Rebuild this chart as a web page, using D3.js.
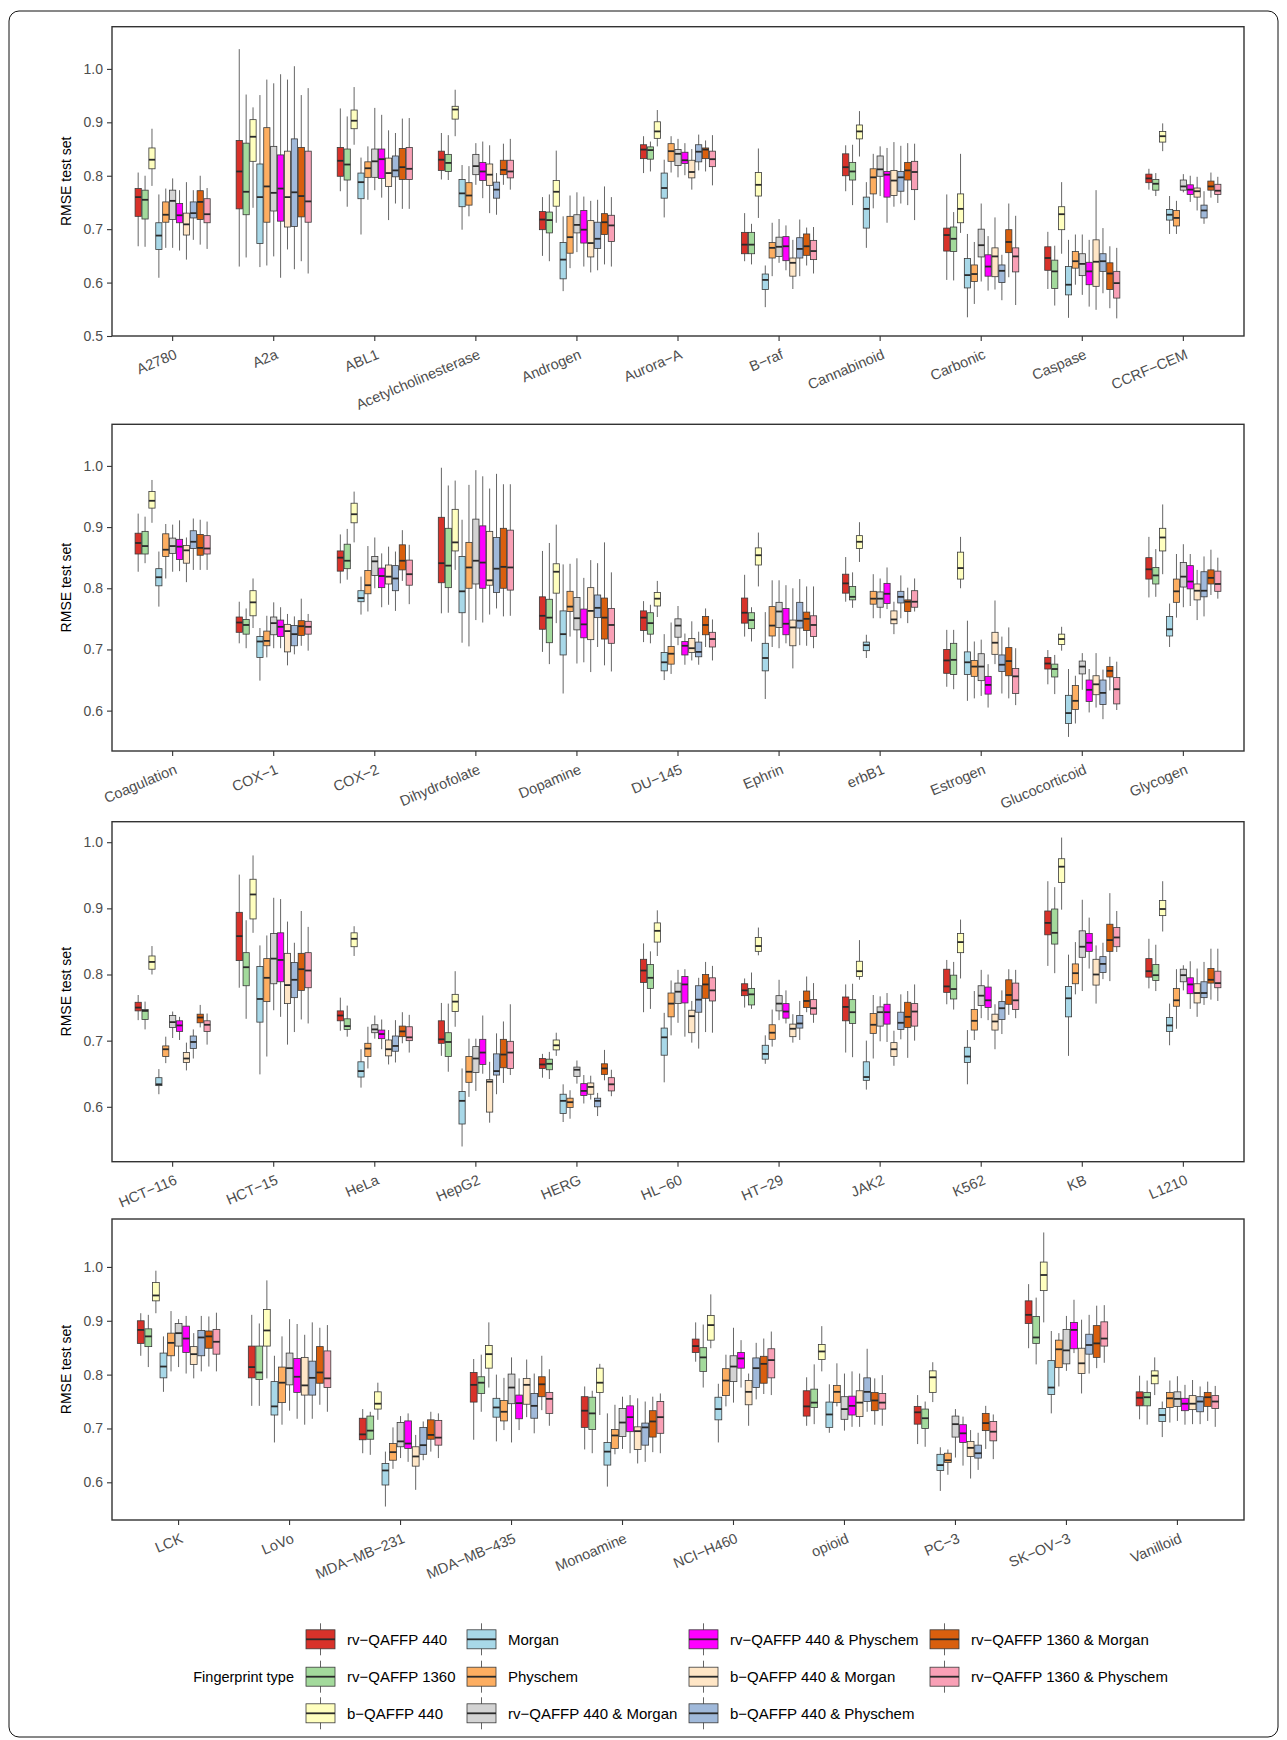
<!DOCTYPE html>
<html><head><meta charset="utf-8">
<script src="https://cdn.jsdelivr.net/npm/d3@7"></script>
<style>
body{margin:0;background:#fff}
svg{display:block}
text{font-family:"Liberation Sans",Arial,Helvetica,sans-serif}
</style>
</head><body>
<svg id="chart" width="1287" height="1740"></svg>
<script>
// ---------------- DATA ----------------
const seriesNames = ["rv−QAFFP 440","rv−QAFFP 1360","b−QAFFP 440","Morgan","Physchem",
  "rv−QAFFP 440 & Morgan","rv−QAFFP 440 & Physchem","b−QAFFP 440 & Morgan",
  "b−QAFFP 440 & Physchem","rv−QAFFP 1360 & Morgan","rv−QAFFP 1360 & Physchem"];
const seriesColors = ["#D8322A","#A3DA9C","#FFFFBF","#A8D8E8","#FDAE61","#D3D3D3",
  "#FF00FF","#FFE6C6","#A0B9DA","#D95F0E","#F9A0B6"];

const categoriesPanel1 = ["A2780","A2a","ABL1","Acetylcholinesterase","Androgen","Aurora−A","B−raf","Cannabinoid","Carbonic","Caspase","CCRF−CEM"];
const categoriesPanel2 = ["Coagulation","COX−1","COX−2","Dihydrofolate","Dopamine","DU−145","Ephrin","erbB1","Estrogen","Glucocorticoid","Glycogen"];
const categoriesPanel3 = ["HCT−116","HCT−15","HeLa","HepG2","HERG","HL−60","HT−29","JAK2","K562","KB","L1210"];
const categoriesPanel4 = ["LCK","LoVo","MDA−MB−231","MDA−MB−435","Monoamine","NCI−H460","opioid","PC−3","SK−OV−3","Vanilloid"];

const yTicksPanel1 = [0.5,0.6,0.7,0.8,0.9,1.0];
const yTicksPanel2 = [0.6,0.7,0.8,0.9,1.0];
const yTicksPanel3 = [0.6,0.7,0.8,0.9,1.0];
const yTicksPanel4 = [0.6,0.7,0.8,0.9,1.0];
const yDomainPanel1 = [0.5,1.079];
const yDomainPanel2 = [0.534,1.068];
const yDomainPanel3 = [0.517,1.031];
const yDomainPanel4 = [0.53,1.089];

// each entry: [lower whisker, Q1, median, Q3, upper whisker], categories in panel order 1..4
const rvQAFFP440 = [
 [.668,.724,.76,.776,.806],[.63,.738,.808,.866,1.037],[.771,.799,.828,.853,.926],[.793,.81,.83,.846,.88],[.65,.699,.718,.733,.76],[.805,.832,.849,.858,.874],[.64,.654,.671,.694,.73],[.771,.8,.816,.841,.857],[.605,.659,.689,.702,.765],[.588,.623,.646,.667,.695],[.774,.787,.795,.803,.813],
 [.827,.856,.874,.89,.922],[.71,.728,.744,.753,.778],[.808,.828,.85,.861,.888],[.759,.809,.841,.916,.997],[.696,.733,.755,.786,.861],[.712,.731,.752,.763,.779],[.721,.743,.76,.784,.822],[.778,.792,.808,.823,.851],[.639,.661,.682,.70,.732],[.643,.668,.677,.687,.699],[.785,.815,.831,.85,.884],
 [.731,.745,.75,.758,.769],[.78,.821,.858,.894,.951],[.715,.73,.738,.745,.765],[.677,.696,.702,.73,.757],[.644,.658,.664,.673,.68],[.743,.788,.806,.823,.847],[.75,.768,.776,.786,.794],[.682,.73,.751,.766,.785],[.755,.773,.782,.808,.822],[.813,.86,.878,.896,.941],[.779,.796,.805,.824,.854],
 [.835,.858,.883,.90,.914],[.742,.794,.814,.853,.911],[.654,.679,.689,.719,.736],[.679,.749,.781,.804,.829],[.661,.702,.733,.759,.778],[.824,.841,.853,.866,.897],[.705,.723,.741,.77,.795],[.671,.708,.73,.741,.762],[.849,.895,.911,.937,.968],[.717,.742,.757,.768,.798]];
const rvQAFFP1360 = [
 [.667,.719,.755,.773,.80],[.647,.727,.77,.861,.952],[.742,.792,.821,.85,.911],[.792,.808,.824,.84,.876],[.64,.693,.717,.732,.765],[.808,.831,.848,.854,.864],[.634,.654,.671,.694,.71],[.745,.792,.808,.825,.858],[.604,.658,.682,.704,.732],[.557,.589,.621,.642,.669],[.762,.773,.785,.793,.805],
 [.841,.856,.869,.893,.917],[.702,.725,.74,.749,.767],[.814,.832,.845,.872,.897],[.76,.801,.837,.898,.968],[.676,.711,.752,.782,.874],[.71,.725,.743,.76,.773],[.713,.734,.748,.76,.769],[.768,.781,.786,.803,.826],[.635,.659,.683,.71,.732],[.627,.655,.668,.676,.691],[.786,.807,.821,.834,.864],
 [.717,.732,.745,.747,.759],[.733,.783,.811,.833,.882],[.706,.717,.722,.733,.753],[.653,.676,.698,.712,.756],[.642,.656,.665,.672,.683],[.748,.779,.795,.815,.835],[.748,.754,.77,.779,.803],[.675,.726,.743,.762,.786],[.747,.763,.778,.799,.819],[.802,.846,.863,.899,.932],[.775,.791,.799,.815,.845],
 [.814,.852,.871,.885,.911],[.742,.791,.804,.853,.895],[.651,.68,.696,.723,.731],[.731,.765,.785,.796,.837],[.654,.698,.728,.758,.77],[.776,.806,.832,.85,.893],[.708,.739,.748,.773,.819],[.666,.70,.719,.736,.75],[.819,.858,.869,.908,.943],[.707,.742,.758,.767,.789]];
const bQAFFP440 = [
 [.781,.813,.83,.852,.888],[.74,.827,.873,.905,.928],[.858,.888,.903,.923,.966],[.874,.906,.924,.93,.961],[.712,.743,.77,.791,.847],[.855,.87,.883,.901,.923],[.721,.762,.783,.806,.851],[.836,.869,.883,.895,.921],[.693,.712,.738,.766,.841],[.654,.699,.728,.742,.788],[.846,.863,.874,.883,.898],
 [.907,.931,.943,.958,.977],[.735,.755,.777,.796,.816],[.875,.907,.921,.939,.958],[.83,.861,.875,.929,.976],[.743,.792,.827,.84,.904],[.753,.771,.783,.793,.812],[.803,.838,.854,.866,.891],[.843,.865,.876,.886,.908],[.80,.815,.833,.859,.884],[.698,.708,.717,.725,.737],[.823,.861,.883,.898,.937],
 [.80,.808,.819,.828,.843],[.863,.884,.921,.944,.98],[.828,.842,.854,.863,.873],[.721,.744,.759,.77,.805],[.677,.686,.693,.701,.712],[.828,.849,.866,.878,.897],[.829,.835,.843,.856,.871],[.792,.797,.805,.82,.852],[.794,.833,.849,.862,.883],[.898,.939,.963,.975,1.007],[.865,.889,.899,.912,.941],
 [.914,.937,.947,.971,.993],[.793,.853,.882,.921,.975],[.716,.736,.746,.768,.785],[.776,.812,.838,.854,.897],[.725,.767,.785,.812,.82],[.849,.864,.892,.91,.949],[.806,.828,.843,.856,.89],[.749,.767,.795,.807,.823],[.897,.956,.985,1.009,1.064],[.762,.783,.798,.807,.832]];
const morgan = [
 [.609,.662,.688,.712,.765],[.629,.673,.76,.822,.951],[.69,.757,.788,.805,.834],[.699,.742,.767,.793,.82],[.584,.607,.643,.675,.724],[.722,.758,.777,.805,.83],[.554,.587,.605,.616,.632],[.665,.702,.738,.76,.788],[.535,.59,.614,.645,.691],[.534,.577,.596,.63,.68],[.691,.717,.727,.737,.762],
 [.77,.804,.818,.832,.86],[.649,.687,.713,.721,.735],[.757,.778,.784,.796,.819],[.711,.76,.795,.852,.912],[.628,.691,.725,.763,.839],[.65,.665,.679,.695,.725],[.619,.665,.686,.71,.761],[.686,.698,.707,.712,.724],[.616,.659,.679,.696,.747],[.557,.579,.596,.625,.668],[.704,.722,.733,.754,.775],
 [.619,.632,.634,.644,.657],[.649,.728,.763,.812,.844],[.629,.645,.654,.668,.687],[.54,.574,.609,.623,.658],[.577,.59,.609,.619,.634],[.637,.678,.705,.719,.742],[.665,.672,.68,.693,.708],[.626,.64,.645,.668,.70],[.634,.667,.676,.69,.716],[.677,.736,.764,.782,.83],[.693,.714,.723,.735,.756],
 [.768,.794,.815,.84,.871],[.674,.725,.741,.787,.835],[.555,.595,.622,.635,.657],[.676,.721,.739,.756,.80],[.592,.632,.657,.674,.728],[.674,.716,.736,.758,.783],[.692,.702,.726,.749,.782],[.584,.622,.632,.652,.665],[.728,.763,.776,.826,.881],[.684,.713,.725,.737,.75]];
const physchem = [
 [.665,.713,.727,.751,.776],[.632,.713,.78,.89,.98],[.755,.797,.814,.826,.855],[.724,.745,.763,.787,.818],[.627,.655,.685,.724,.763],[.806,.827,.846,.86,.874],[.612,.646,.665,.675,.712],[.739,.766,.797,.813,.841],[.56,.602,.616,.633,.676],[.596,.627,.64,.658,.69],[.691,.706,.721,.735,.753],
 [.816,.852,.863,.889,.905],[.687,.706,.714,.73,.755],[.762,.791,.805,.829,.869],[.705,.80,.834,.875,.969],[.721,.762,.77,.795,.84],[.66,.676,.693,.705,.744],[.704,.722,.739,.77,.813],[.751,.774,.783,.795,.823],[.62,.656,.672,.682,.713],[.579,.602,.616,.641,.657],[.752,.777,.795,.815,.856],
 [.666,.676,.687,.692,.706],[.676,.759,.795,.824,.859],[.658,.676,.688,.696,.721],[.615,.637,.653,.676,.703],[.582,.599,.607,.613,.625],[.708,.736,.756,.772,.791],[.691,.702,.712,.724,.747],[.673,.711,.724,.741,.769],[.701,.716,.73,.747,.775],[.77,.786,.802,.816,.849],[.718,.752,.761,.779,.808],
 [.806,.835,.859,.877,.918],[.707,.748,.785,.814,.871],[.625,.641,.656,.672,.702],[.697,.714,.731,.752,.794],[.652,.663,.687,.698,.744],[.741,.761,.789,.811,.837],[.741,.748,.768,.78,.821],[.614,.637,.641,.654,.661],[.778,.813,.847,.864,.877],[.711,.739,.756,.767,.789]];
const rv440Morgan = [
 [.665,.718,.753,.773,.795],[.649,.734,.768,.855,.973],[.773,.797,.827,.85,.927],[.783,.802,.818,.84,.861],[.657,.693,.708,.727,.769],[.797,.819,.841,.849,.869],[.637,.649,.667,.685,.719],[.762,.799,.812,.837,.855],[.602,.648,.67,.70,.748],[.577,.613,.635,.654,.69],[.769,.773,.78,.792,.803],
 [.827,.857,.869,.882,.904],[.702,.724,.743,.753,.777],[.80,.821,.844,.852,.883],[.748,.807,.845,.913,.993],[.677,.732,.751,.785,.849],[.707,.72,.739,.75,.771],[.702,.736,.762,.777,.813],[.751,.769,.783,.794,.816],[.624,.649,.672,.693,.716],[.634,.66,.672,.681,.694],[.769,.802,.819,.842,.872],
 [.704,.72,.728,.738,.744],[.746,.786,.824,.862,.916],[.703,.712,.717,.724,.738],[.624,.652,.673,.691,.703],[.635,.646,.656,.66,.67],[.727,.756,.774,.787,.807],[.731,.745,.756,.768,.792],[.699,.722,.743,.751,.767],[.734,.753,.768,.783,.807],[.775,.826,.842,.866,.913],[.776,.789,.799,.808,.814],
 [.814,.853,.877,.895,.903],[.733,.781,.812,.84,.903],[.645,.666,.676,.711,.723],[.674,.746,.776,.801,.832],[.662,.685,.711,.737,.759],[.748,.787,.815,.835,.887],[.696,.717,.736,.759,.802],[.646,.684,.708,.723,.736],[.807,.82,.845,.884,.909],[.714,.741,.755,.768,.797]];
const rv440Physchem = [
 [.66,.712,.726,.748,.773],[.609,.715,.776,.839,.99],[.759,.795,.831,.85,.914],[.758,.791,.808,.825,.864],[.63,.674,.699,.735,.761],[.801,.823,.829,.844,.861],[.623,.641,.668,.686,.707],[.712,.76,.802,.808,.852],[.585,.612,.63,.652,.687],[.555,.596,.621,.638,.68],[.751,.765,.774,.783,.80],
 [.828,.847,.868,.88,.911],[.702,.721,.737,.748,.769],[.769,.801,.82,.833,.857],[.744,.80,.842,.902,.983],[.679,.719,.741,.766,.817],[.675,.691,.706,.713,.726],[.71,.724,.742,.767,.805],[.766,.775,.791,.808,.834],[.605,.627,.642,.656,.676],[.597,.615,.634,.65,.668],[.771,.799,.811,.837,.856],
 [.701,.714,.723,.73,.736],[.736,.789,.822,.863,.914],[.687,.703,.71,.716,.732],[.65,.664,.682,.702,.738],[.605,.617,.624,.635,.648],[.706,.757,.785,.797,.808],[.726,.734,.744,.756,.776],[.698,.725,.743,.755,.772],[.731,.75,.761,.781,.80],[.809,.835,.848,.862,.886],[.748,.771,.785,.795,.82],
 [.802,.841,.867,.89,.909],[.718,.767,.796,.83,.894],[.638,.663,.672,.714,.728],[.697,.718,.747,.762,.793],[.654,.694,.721,.742,.762],[.776,.812,.83,.841,.864],[.703,.725,.742,.76,.806],[.631,.674,.691,.707,.722],[.84,.848,.883,.897,.939],[.707,.733,.746,.756,.781]];
const b440Morgan = [
 [.643,.689,.709,.73,.788],[.662,.704,.76,.846,.98],[.717,.78,.805,.833,.885],[.73,.782,.802,.822,.857],[.619,.648,.674,.716,.753],[.774,.796,.807,.829,.85],[.588,.612,.637,.646,.68],[.742,.763,.791,.81,.863],[.587,.611,.649,.665,.722],[.549,.593,.639,.68,.773],[.735,.76,.771,.777,.798],
 [.81,.841,.862,.87,.883],[.674,.696,.73,.741,.758],[.773,.807,.819,.838,.868],[.757,.805,.813,.893,.963],[.663,.716,.763,.801,.846],[.682,.695,.702,.718,.746],[.669,.706,.736,.748,.80],[.725,.742,.749,.763,.778],[.676,.692,.711,.728,.78],[.605,.626,.643,.657,.694],[.748,.781,.796,.807,.83],
 [.655,.667,.673,.682,.697],[.694,.756,.784,.832,.88],[.664,.677,.687,.701,.716],[.576,.592,.638,.641,.668],[.611,.619,.63,.636,.647],[.697,.712,.737,.746,.76],[.697,.706,.718,.725,.74],[.662,.676,.687,.697,.715],[.687,.716,.729,.74,.755],[.756,.784,.80,.823,.844],[.736,.757,.772,.786,.809],
 [.793,.819,.838,.852,.877],[.707,.762,.78,.832,.874],[.586,.63,.648,.666,.688],[.721,.745,.781,.793,.828],[.635,.661,.695,.703,.756],[.705,.744,.768,.789,.802],[.703,.722,.748,.77,.802],[.607,.648,.664,.676,.697],[.765,.802,.821,.849,.902],[.708,.735,.746,.761,.79]];
const b440Physchem = [
 [.68,.721,.73,.751,.773],[.625,.705,.769,.869,1.005],[.748,.798,.81,.837,.88],[.727,.758,.774,.788,.805],[.623,.664,.682,.713,.755],[.81,.826,.845,.858,.877],[.612,.646,.663,.684,.718],[.748,.771,.797,.808,.856],[.567,.60,.622,.633,.652],[.58,.621,.64,.654,.702],[.71,.721,.735,.745,.771],
 [.83,.865,.876,.894,.914],[.692,.706,.725,.739,.754],[.763,.796,.816,.837,.86],[.767,.793,.832,.883,.987],[.704,.752,.768,.789,.841],[.675,.688,.696,.712,.729],[.707,.735,.747,.777,.815],[.751,.776,.786,.795,.821],[.628,.664,.675,.691,.721],[.586,.61,.629,.65,.667],[.754,.786,.796,.827,.852],
 [.673,.688,.698,.707,.717],[.713,.765,.792,.818,.848],[.667,.684,.692,.707,.731],[.619,.648,.654,.68,.711],[.586,.60,.609,.613,.621],[.688,.743,.762,.783,.795],[.701,.719,.726,.738,.76],[.702,.717,.727,.743,.77],[.71,.732,.749,.759,.776],[.793,.803,.816,.827,.848],[.754,.765,.772,.789,.819],
 [.806,.835,.869,.882,.909],[.718,.762,.794,.825,.897],[.641,.652,.669,.702,.713],[.691,.719,.742,.765,.802],[.638,.669,.702,.71,.75],[.754,.776,.812,.831,.859],[.731,.75,.768,.794,.848],[.623,.645,.654,.669,.692],[.802,.838,.855,.875,.911],[.708,.731,.75,.759,.778]];
const rv1360Morgan = [
 [.671,.718,.751,.772,.80],[.64,.723,.762,.853,.951],[.738,.793,.816,.851,.907],[.783,.802,.811,.829,.86],[.634,.69,.713,.729,.78],[.808,.832,.849,.852,.866],[.632,.651,.668,.691,.703],[.745,.792,.81,.825,.861],[.61,.656,.676,.699,.748],[.552,.587,.617,.637,.668],[.759,.773,.78,.79,.806],
 [.83,.854,.866,.888,.912],[.706,.723,.738,.747,.783],[.812,.83,.845,.871,.895],[.754,.80,.835,.898,.97],[.674,.717,.752,.784,.875],[.704,.724,.74,.754,.767],[.706,.731,.75,.761,.803],[.743,.762,.778,.781,.801],[.62,.657,.681,.703,.736],[.633,.655,.665,.672,.688],[.789,.807,.817,.83,.863],
 [.72,.727,.735,.74,.754],[.732,.776,.808,.832,.896],[.696,.706,.714,.722,.743],[.636,.659,.679,.702,.729],[.64,.649,.658,.665,.686],[.713,.764,.785,.80,.819],[.743,.75,.76,.775,.797],[.674,.72,.736,.758,.775],[.739,.755,.769,.792,.808],[.79,.835,.852,.876,.923],[.762,.787,.792,.809,.839],
 [.815,.849,.871,.881,.908],[.744,.784,.804,.852,.887],[.657,.68,.688,.716,.731],[.734,.759,.782,.796,.835],[.656,.684,.713,.733,.759],[.764,.784,.82,.834,.867],[.707,.733,.752,.767,.793],[.662,.696,.71,.728,.742],[.812,.832,.858,.891,.928],[.714,.741,.758,.767,.787]];
const rv1360Physchem = [
 [.663,.712,.728,.757,.777],[.617,.713,.752,.846,.964],[.738,.793,.813,.853,.908],[.774,.796,.808,.829,.869],[.63,.677,.707,.726,.76],[.782,.817,.831,.846,.876],[.617,.643,.659,.679,.704],[.717,.774,.807,.827,.86],[.558,.62,.649,.665,.725],[.533,.571,.599,.621,.665],[.749,.765,.772,.784,.798],
 [.83,.856,.865,.886,.909],[.698,.725,.737,.746,.758],[.774,.805,.823,.846,.871],[.755,.797,.834,.895,.97],[.664,.71,.74,.767,.826],[.682,.704,.717,.728,.749],[.702,.721,.74,.755,.803],[.762,.769,.778,.796,.816],[.609,.628,.656,.669,.702],[.601,.611,.635,.654,.68],[.783,.795,.807,.828,.85],
 [.694,.714,.724,.73,.741],[.726,.78,.806,.833,.872],[.682,.70,.705,.721,.739],[.648,.658,.682,.699,.755],[.616,.624,.634,.644,.656],[.712,.76,.776,.795,.813],[.727,.74,.749,.762,.787],[.70,.722,.744,.756,.785],[.734,.747,.761,.787,.807],[.834,.842,.856,.871,.896],[.76,.78,.787,.805,.839],
 [.806,.838,.861,.884,.915],[.731,.776,.793,.844,.892],[.645,.669,.683,.715,.728],[.705,.728,.755,.767,.81],[.654,.691,.721,.75,.765],[.762,.794,.827,.848,.88],[.705,.736,.748,.765,.799],[.643,.677,.694,.713,.726],[.822,.853,.867,.898,.929],[.703,.737,.75,.761,.779]];

const seriesValues = [rvQAFFP440, rvQAFFP1360, bQAFFP440, morgan, physchem, rv440Morgan,
  rv440Physchem, b440Morgan, b440Physchem, rv1360Morgan, rv1360Physchem];

// ---------------- DRAWING ----------------
const svg = d3.select("#chart");
const FONT = 14;
const CAT_FONT = 14.5;
const LEG_FONT = 15;
const plotLeft = 112, plotRight = 1244;

svg.append("rect").attr("x", 9).attr("y", 11).attr("width", 1269).attr("height", 1726)
  .attr("rx", 10).attr("fill", "none").attr("stroke", "#111").attr("stroke-width", 1);

const panels = [
  {cats: categoriesPanel1, ticks: yTicksPanel1, domain: yDomainPanel1, top: 26.7, bottom: 336},
  {cats: categoriesPanel2, ticks: yTicksPanel2, domain: yDomainPanel2, top: 424.3, bottom: 751},
  {cats: categoriesPanel3, ticks: yTicksPanel3, domain: yDomainPanel3, top: 821.7, bottom: 1161.7},
  {cats: categoriesPanel4, ticks: yTicksPanel4, domain: yDomainPanel4, top: 1219, bottom: 1520}
];

let offset = 0;
panels.forEach(p => {
  const g = svg.append("g");
  const x = d3.scaleBand().domain(p.cats).range([plotLeft, plotRight]).paddingInner(0).paddingOuter(0.1);
  const y = d3.scaleLinear().domain(p.domain).range([p.bottom, p.top]);
  const groupW = x.step() * 0.75;
  const xs = d3.scaleBand().domain(seriesNames).range([-groupW / 2, groupW / 2]).paddingInner(0.1).paddingOuter(0.05);
  const bw = xs.bandwidth();

  g.append("rect").attr("x", plotLeft).attr("y", p.top).attr("width", plotRight - plotLeft)
    .attr("height", p.bottom - p.top).attr("fill", "#fff");

  // boxes
  p.cats.forEach((c, ci) => {
    const cx = x(c) + x.bandwidth() / 2;
    seriesNames.forEach((s, si) => {
      const v = seriesValues[si][offset + ci];
      const bx = cx + xs(s);
      const mid = bx + bw / 2;
      const bg = g.append("g");
      bg.append("line").attr("x1", mid).attr("x2", mid).attr("y1", y(v[0])).attr("y2", y(v[4]))
        .attr("stroke", "#555").attr("stroke-width", 0.9);
      bg.append("rect").attr("x", bx).attr("y", y(v[3])).attr("width", bw)
        .attr("height", Math.max(0.5, y(v[1]) - y(v[3])))
        .attr("fill", seriesColors[si]).attr("stroke", "#3a3a3a").attr("stroke-width", 0.8);
      bg.append("line").attr("x1", bx).attr("x2", bx + bw).attr("y1", y(v[2])).attr("y2", y(v[2]))
        .attr("stroke", "#2a2a2a").attr("stroke-width", 1.8);
    });
  });

  // border
  g.append("rect").attr("x", plotLeft).attr("y", p.top).attr("width", plotRight - plotLeft)
    .attr("height", p.bottom - p.top).attr("fill", "none").attr("stroke", "#333").attr("stroke-width", 1.4);

  // y axis
  const ya = g.append("g").attr("transform", `translate(${plotLeft},0)`)
    .call(d3.axisLeft(y).tickValues(p.ticks).tickFormat(d3.format(".1f")).tickSize(5).tickPadding(4));
  ya.select(".domain").remove();
  ya.selectAll(".tick line").attr("stroke", "#333").attr("stroke-width", 1.1);
  ya.selectAll(".tick text").attr("fill", "#4d4d4d").style("font-size", FONT + "px")
    .style("font-family", '"Liberation Sans",Arial,sans-serif');

  // x axis
  const xa = g.append("g").attr("transform", `translate(0,${p.bottom})`)
    .call(d3.axisBottom(x).tickSize(5));
  xa.select(".domain").remove();
  xa.selectAll(".tick line").attr("stroke", "#333").attr("stroke-width", 1.1);
  xa.selectAll(".tick text").attr("fill", "#4d4d4d").style("font-size", CAT_FONT + "px")
    .style("font-family", '"Liberation Sans",Arial,sans-serif')
    .attr("text-anchor", "end").attr("x", 0).attr("y", 0).attr("dy", "0.75em")
    .attr("transform", "translate(1,12) rotate(-23)");

  // y title
  g.append("text").attr("transform", `translate(71,${(p.top + p.bottom) / 2}) rotate(-90)`)
    .attr("text-anchor", "middle").attr("fill", "#000").style("font-size", FONT + "px")
    .text("RMSE test set");

  offset += p.cats.length;
});

// ---------------- LEGEND ----------------
const legendKeyX = [306, 467, 689, 930];
const legendRowY = [1639.3, 1676.7, 1713.3];
const lg = svg.append("g");
lg.append("text").attr("x", 294).attr("y", legendRowY[1]).attr("dy", "0.35em")
  .attr("text-anchor", "end").attr("fill", "#000").style("font-size", (LEG_FONT - 0.5) + "px").text("Fingerprint type");
seriesNames.forEach((s, i) => {
  const col = Math.floor(i / 3), row = i % 3;
  const kx = legendKeyX[col], ky = legendRowY[row];
  const kw = 29, kh = 19;
  lg.append("line").attr("x1", kx + kw / 2).attr("x2", kx + kw / 2).attr("y1", ky - 16).attr("y2", ky + 16)
    .attr("stroke", "#555").attr("stroke-width", 0.9);
  lg.append("rect").attr("x", kx).attr("y", ky - kh / 2).attr("width", kw).attr("height", kh)
    .attr("fill", seriesColors[i]).attr("stroke", "#3a3a3a").attr("stroke-width", 0.8);
  lg.append("line").attr("x1", kx).attr("x2", kx + kw).attr("y1", ky).attr("y2", ky)
    .attr("stroke", "#2a2a2a").attr("stroke-width", 1.8);
  lg.append("text").attr("x", kx + 41).attr("y", ky).attr("dy", "0.35em").attr("fill", "#000")
    .style("font-size", LEG_FONT + "px").text(s);
});
</script>
</body></html>
